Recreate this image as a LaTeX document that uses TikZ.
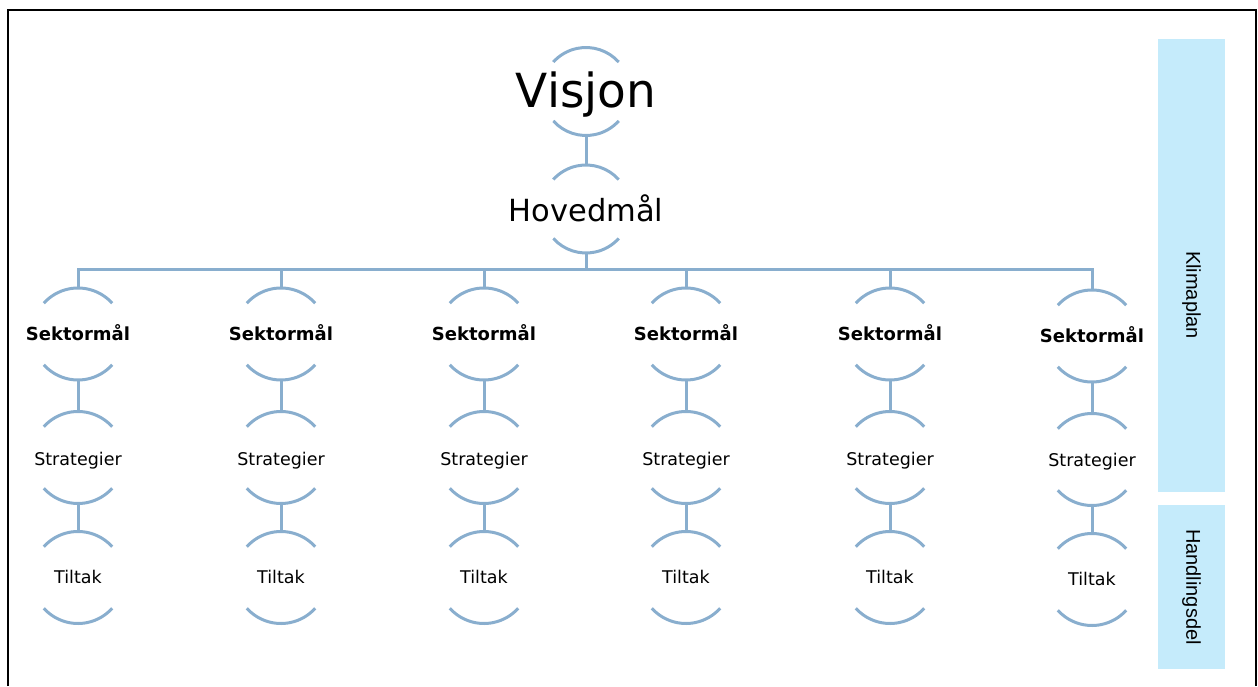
\documentclass[tikz,border=0pt]{standalone}
\usepackage{fontspec}
\setmainfont{DejaVu Sans}
\newfontfamily\arialf{Liberation Sans}
\definecolor{linec}{RGB}{137,174,206}
\definecolor{boxc}{RGB}{197,235,251}
\tikzset{
  ring/.style={circle, draw=none, inner sep=0pt, minimum size=92pt},
  ringbig/.style={ring, minimum size=88pt},
  lbl/.style={anchor=base, inner sep=0pt, text=black},
  conn/.style={draw=linec, line width=3pt},
  sidebox/.style={fill=boxc, draw=none},
  sidelabel/.style={rotate=-90, font=\arialf\fontsize{20}{24}\selectfont, text=black},
  framestyle/.style={draw=black, line width=2pt},
  lvlA/.style={lbl, font=\fontsize{47}{54}\selectfont},
  lvlB/.style={lbl, font=\fontsize{30.5}{36}\selectfont},
  lvlC/.style={lbl, font=\bfseries\fontsize{18}{20}\selectfont},
  lvlD/.style={lbl, font=\fontsize{17.5}{20}\selectfont},
}
\newcommand\arcsof[2]{%
  \draw[conn] ([shift={(42:#2)}]#1.center) arc (42:138:#2);
  \draw[conn] ([shift={(222:#2)}]#1.center) arc (222:318:#2);
}
\begin{document}
\begin{tikzpicture}[x=1pt,y=1pt]
\useasboundingbox (0,0) rectangle (1258,686);
% frame
\draw[framestyle] (8,0) -- (8,676) -- (1256,676) -- (1256,0);
% side boxes
\fill[sidebox] (1158,194) rectangle (1225,647);
\fill[sidebox] (1158,17) rectangle (1225,181);
\node[sidelabel] (klima) at (1191.5,391) {Klimaplan};
\node[sidelabel] (handl) at (1191.5,99) {Handlingsdel};
% top
\node[ringbig] (vis) at (586,594.5) {};
\node[lvlA] (visT) at (586,578) {Visjon};
\node[ringbig] (hov) at (586,477) {};
\node[lvlB] (hovT) at (586,464) {Hovedmål};
\arcsof{vis}{44pt}
\arcsof{hov}{44pt}
\draw[conn] (vis.south) -- (hov.north);
\coordinate (bus) at (586,416);
\draw[conn] (hov.south) -- (bus);
% columns
\foreach \i/\x/\dy in {1/78/0, 2/281/0, 3/484/0, 4/686/0, 5/890/0, 6/1092/-2} {
  \node[ring] (s\i) at (\x,352+\dy) {};
  \node[ring] (t\i) at (\x,228.5+\dy) {};
  \node[ring] (k\i) at (\x,108.5+\dy) {};
  \node[lvlC] (sT\i) at (\x,345.5+\dy) {Sektormål};
  \node[lvlD] (tT\i) at (\x,221+\dy) {Strategier};
  \node[lvlD] (kT\i) at (\x,103+\dy) {Tiltak};
  \arcsof{s\i}{46pt}
  \arcsof{t\i}{46pt}
  \arcsof{k\i}{46pt}
  \draw[conn] (s\i.north) |- (bus);
  \draw[conn] (s\i.south) -- (t\i.north);
  \draw[conn] (t\i.south) -- (k\i.north);
}
\end{tikzpicture}
\end{document}
